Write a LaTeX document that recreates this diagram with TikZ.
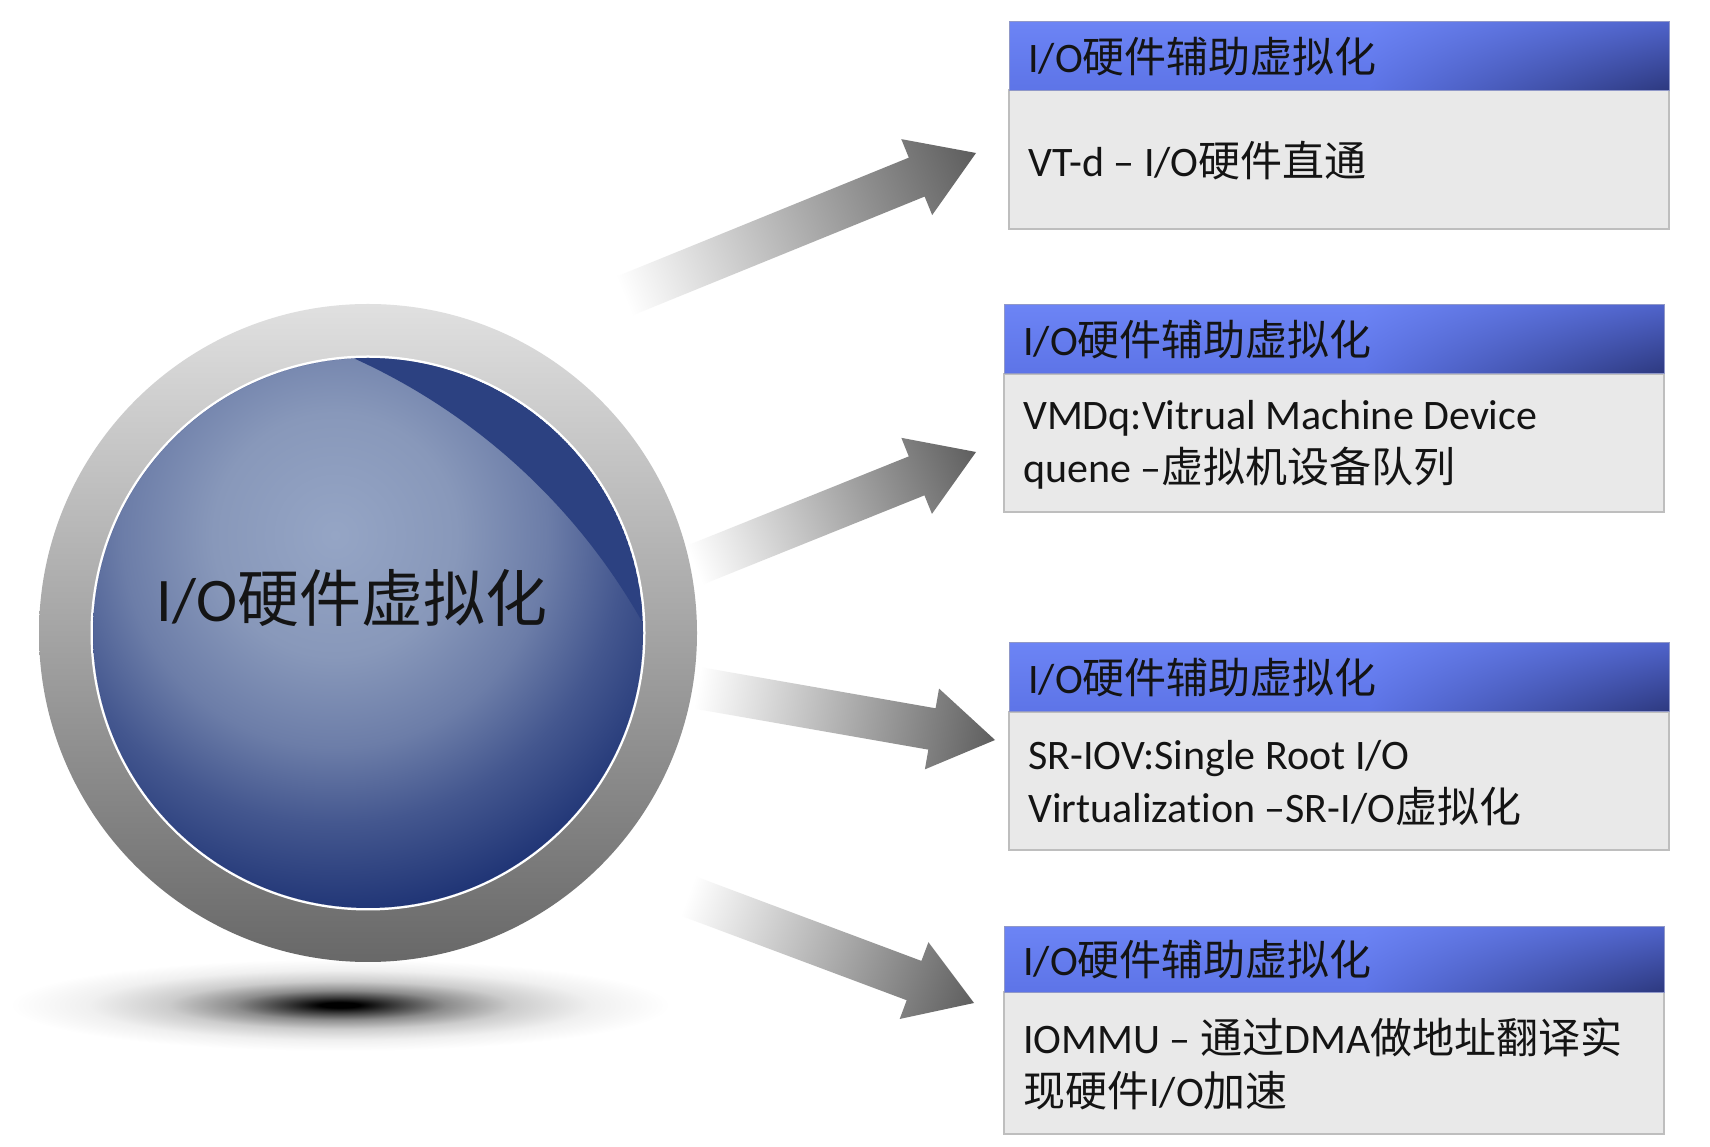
\documentclass[tikz,border=0pt]{standalone}
\usepackage{fontspec}
\setmainfont{Carlito}[Ligatures=NoCommon]
\newfontfamily\cjk{Noto Sans CJK SC}
\usetikzlibrary{calc,shadings}
\definecolor{ringtop}{HTML}{E0E0E0}
\definecolor{ringmid}{HTML}{BDBDBD}
\definecolor{ringbot}{HTML}{686868}
\definecolor{crescent}{HTML}{2C4181}
\definecolor{arrowgray}{HTML}{5E5E5E}
\definecolor{hUL}{HTML}{6C84F5}
\definecolor{hLL}{HTML}{5D74E7}
\definecolor{hUR}{HTML}{4F63CA}
\definecolor{hLR}{HTML}{2D397F}
\definecolor{hline}{HTML}{9098C8}
\definecolor{bodyfill}{HTML}{E9E9E9}
\definecolor{bodyline}{HTML}{BEBEBE}
\definecolor{txt}{HTML}{141414}
\pgfdeclareradialshading{discshade}{\pgfpoint{0bp}{0bp}}{color(0bp)=(rgb,255:red,149;green,165;blue,197); color(8bp)=(rgb,255:red,136;green,152;blue,186); color(14bp)=(rgb,255:red,108;green,125;blue,168); color(19bp)=(rgb,255:red,68;green,87;blue,143); color(25bp)=(rgb,255:red,31;green,52;blue,117); color(50bp)=(rgb,255:red,31;green,52;blue,117)}
\pgfdeclareradialshading{floorshadow}{\pgfpoint{0bp}{0bp}}{color(0bp)=(black); color(1.5bp)=(black); color(4bp)=(black!78); color(8bp)=(black!45); color(13bp)=(black!20); color(19bp)=(black!6); color(25bp)=(white); color(50bp)=(white)}
% gradient arrow: #1 name, #2 half length, #3 shading angle
\newcommand\gradarrow[3]{%
  \coordinate (#1m) at ($(#1t)!0.5!(#1h)$);
  \coordinate (#1j) at ($(#1h)!64pt!(#1t)$);
  \shade[top color=white, bottom color=arrowgray, shading angle=#3]
    ($(#1m)+(-#2,-#2)$) ($(#1m)+(#2,#2)$)
    ($(#1t)!21pt!90:(#1h)$) -- ($(#1j)!21pt!90:(#1h)$) -- ($(#1j)!41pt!90:(#1h)$)
    -- (#1h) -- ($(#1j)!41pt!-90:(#1h)$) -- ($(#1j)!21pt!-90:(#1h)$)
    -- ($(#1t)!21pt!-90:(#1h)$) -- cycle;
}
% info box: #1 left, #2 body bottom, #3 header bottom, #4 header top
\newcommand\infobox[4]{%
  \fill[bodyfill] (#1,#2) rectangle (#1+660,#3);
  \draw[bodyline, line width=2pt] (#1,#2) rectangle (#1+660,#3);
  \shade[top color=hUL, bottom color=hLL] (#1,#3) rectangle (#1+361,#4);
  \shade[upper left=hUL, lower left=hLL, upper right=hUR, lower right=hLR] (#1+360,#3) rectangle (#1+660,#4);
  \draw[hline, line width=1pt] (#1,#3) rectangle (#1+660,#4);
}
\begin{document}
\begin{tikzpicture}[x=1pt,y=1pt,
  hdrtext/.style={font=\fontsize{42}{50}\selectfont, anchor=west, inner sep=0pt, text=txt},
  bodytext/.style={font=\fontsize{42}{53}\selectfont, anchor=west, align=left, inner sep=0pt, text=txt},
  maintext/.style={font=\fontsize{62}{70}\selectfont, inner sep=0pt, text=txt}]
\useasboundingbox[fill=white] (0,0) rectangle (1710,1146);

% floor shadow
\shade[shading=floorshadow] (340,141) ellipse [x radius=330pt, y radius=46pt];

% ring and disc
\shade[top color=ringtop, middle color=ringmid, bottom color=ringbot] (368,513) circle (329pt);
\fill[white] (368,513) circle (277.5pt);
\begin{scope}
  \clip (368,513) circle (275pt);
  \shade[shading=discshade] (335,611) circle (380pt);
  \fill[crescent, even odd rule] (368,513) circle (275pt) (96,216) circle (627pt);
\end{scope}
\node[maintext] (main) at (352,548) {I/O{\cjk 硬件虚拟化}};

% arrows
\coordinate (a1t) at (622,849); \coordinate (a1h) at (976,993);
\coordinate (a2t) at (695,581); \coordinate (a2h) at (976,694);
\coordinate (a3t) at (698,458); \coordinate (a3h) at (995,406);
\coordinate (a4t) at (688,250); \coordinate (a4h) at (974,143);
\gradarrow{a1}{189}{112.1}
\gradarrow{a2}{152}{111.9}
\gradarrow{a3}{151}{80.1}
\gradarrow{a4}{153}{69.5}

% boxes
\infobox{1009}{917}{1055.5}{1124}
\infobox{1004}{633.5}{772}{841}
\infobox{1009}{295.5}{434}{503}
\infobox{1004}{12}{154}{219}

\node[hdrtext] (h1) at (1028,1089.75) {I/O{\cjk 硬件辅助虚拟化}};
\node[hdrtext] (h2) at (1023,806.5) {I/O{\cjk 硬件辅助虚拟化}};
\node[hdrtext] (h3) at (1028,468.5) {I/O{\cjk 硬件辅助虚拟化}};
\node[hdrtext] (h4) at (1023,186.5) {I/O{\cjk 硬件辅助虚拟化}};

\node[bodytext] (t1) at (1028,985) {VT-d – I/O{\cjk 硬件直通}};
\node[bodytext] (t2) at (1023,701.5) {VMDq:Vitrual Machine Device\\quene –{\cjk 虚拟机设备队列}};
\node[bodytext] (t3) at (1028,363) {SR-IOV:Single Root I/O\\Virtualization –SR-I/O{\cjk 虚拟化}};
\node[bodytext] (t4) at (1023,82) {IOMMU – {\cjk 通过}DMA{\cjk 做地址翻译实}\\{\cjk 现硬件}I/O{\cjk 加速}};
\end{tikzpicture}
\end{document}
